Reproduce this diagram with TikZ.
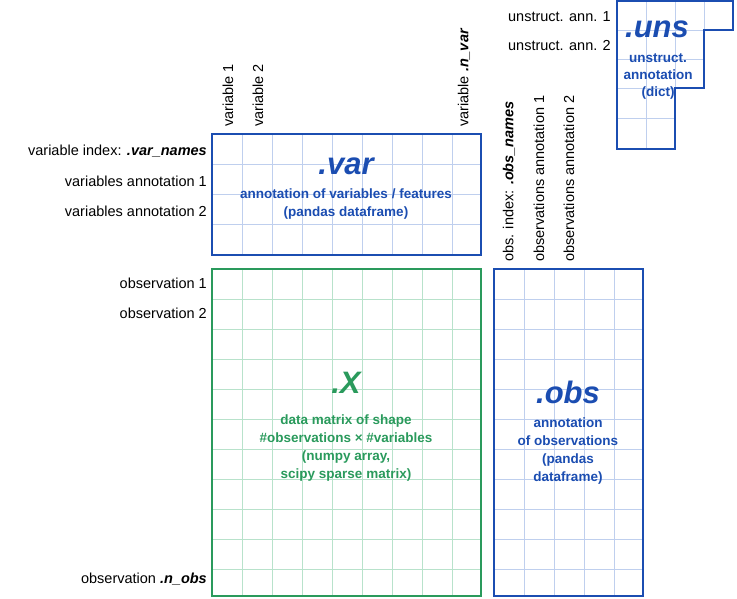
\documentclass[tikz,border=0pt]{standalone}
\usepackage{fontspec}
\setmainfont{Liberation Sans}
\begin{document}
\begin{tikzpicture}[x=1pt,y=-1pt,
  lab/.style={font=\fontsize{14.5}{17}\selectfont, inner sep=0pt},
  big/.style={font=\fontsize{31}{34}\selectfont\bfseries\itshape, inner sep=0pt},
  sub/.style={font=\fontsize{13.5}{18}\selectfont\bfseries, align=center, inner sep=0pt}]
\definecolor{blu}{HTML}{1B4DB1}
\definecolor{blul}{HTML}{BFCFEE}
\definecolor{grn}{HTML}{2A9A5C}
\definecolor{grnl}{HTML}{B8E2CB}
\useasboundingbox (0,0) rectangle (737,598);
% var
\foreach \x in {242,272,...,452} \draw[blul] (\x,134)--(\x,255);
\foreach \y in {164,194,224} \draw[blul] (212,\y)--(481,\y);
\draw[blu,line width=1.6pt] (212,134) rectangle (481,255);
% X
\foreach \x in {242,272,...,452} \draw[grnl] (\x,269)--(\x,596);
\foreach \y in {299,329,...,569} \draw[grnl] (212,\y)--(481,\y);
\draw[grn,line width=1.6pt] (212,269) rectangle (481,596);
% obs
\foreach \x in {524,554,584,614} \draw[blul] (\x,269)--(\x,596);
\foreach \y in {299,329,...,569} \draw[blul] (494,\y)--(643,\y);
\draw[blu,line width=1.6pt] (494,269) rectangle (643,596);
% uns
\foreach \x in {646,675} \draw[blul] (\x,1)--(\x,149);
\draw[blul] (704,1)--(704,30);
\draw[blul] (617,30)--(704,30);
\draw[blul] (617,59)--(704,59);
\draw[blul] (617,88)--(675,88);
\draw[blul] (617,118)--(675,118);
\draw[blu,line width=1.6pt] (617,1)--(733,1)--(733,30)--(704,30)--(704,88)--(675,88)--(675,149)--(617,149)--cycle;
% titles
\node[big,text=blu] (vart) at (346,166) {.var};
\node[big,text=grn] (xt) at (346,383) {.X};
\node[big,text=blu] (obst) at (568,392) {.obs};
\node[big,text=blu] (unst) at (657,29) {.uns};
\node[sub,text=blu] (vars) at (346,204) {annotation of variables / features\\(pandas dataframe)};
\node[sub,text=grn] (xs) at (346,448) {data matrix of shape\\\#observations × \#variables\\(numpy array,\\scipy sparse matrix)};
\node[sub,text=blu] (obss) at (568,451) {annotation\\of observations\\(pandas\\dataframe)};
\node[sub,text=blu,font=\fontsize{13.5}{17}\selectfont\bfseries] (unss) at (658,76) {unstruct.\\annotation\\(dict)};
% left labels
\node[lab,anchor=east] (l1) at (207,151) {variable index: \textbf{\textit{.var\_names}}};
\node[lab,anchor=east] (l2) at (207,181) {variables annotation 1};
\node[lab,anchor=east] (l3) at (207,211) {variables annotation 2};
\node[lab,anchor=east] (l4) at (207,283) {observation 1};
\node[lab,anchor=east] (l5) at (207,313) {observation 2};
\node[lab,anchor=east] (l6) at (207,579) {observation \textbf{\textit{.n\_obs}}};
\node[lab,anchor=east] (u1) at (611,17) {unstruct. ann. 1};
\node[lab,anchor=east] (u2) at (611,46) {unstruct. ann. 2};
% rotated
\node[lab,anchor=west,rotate=90] (v1) at (228,127) {variable 1};
\node[lab,anchor=west,rotate=90] (v2) at (258,127) {variable 2};
\node[lab,anchor=west,rotate=90] (vn) at (464,127) {variable \textbf{\textit{.n\_var}}};
\node[lab,anchor=west,rotate=90] (o1) at (509,262) {obs. index: \textbf{\textit{.obs\_names}}};
\node[lab,anchor=west,rotate=90] (o2) at (539,262) {observations annotation 1};
\node[lab,anchor=west,rotate=90] (o3) at (569,262) {observations annotation 2};
\end{tikzpicture}
\end{document}
